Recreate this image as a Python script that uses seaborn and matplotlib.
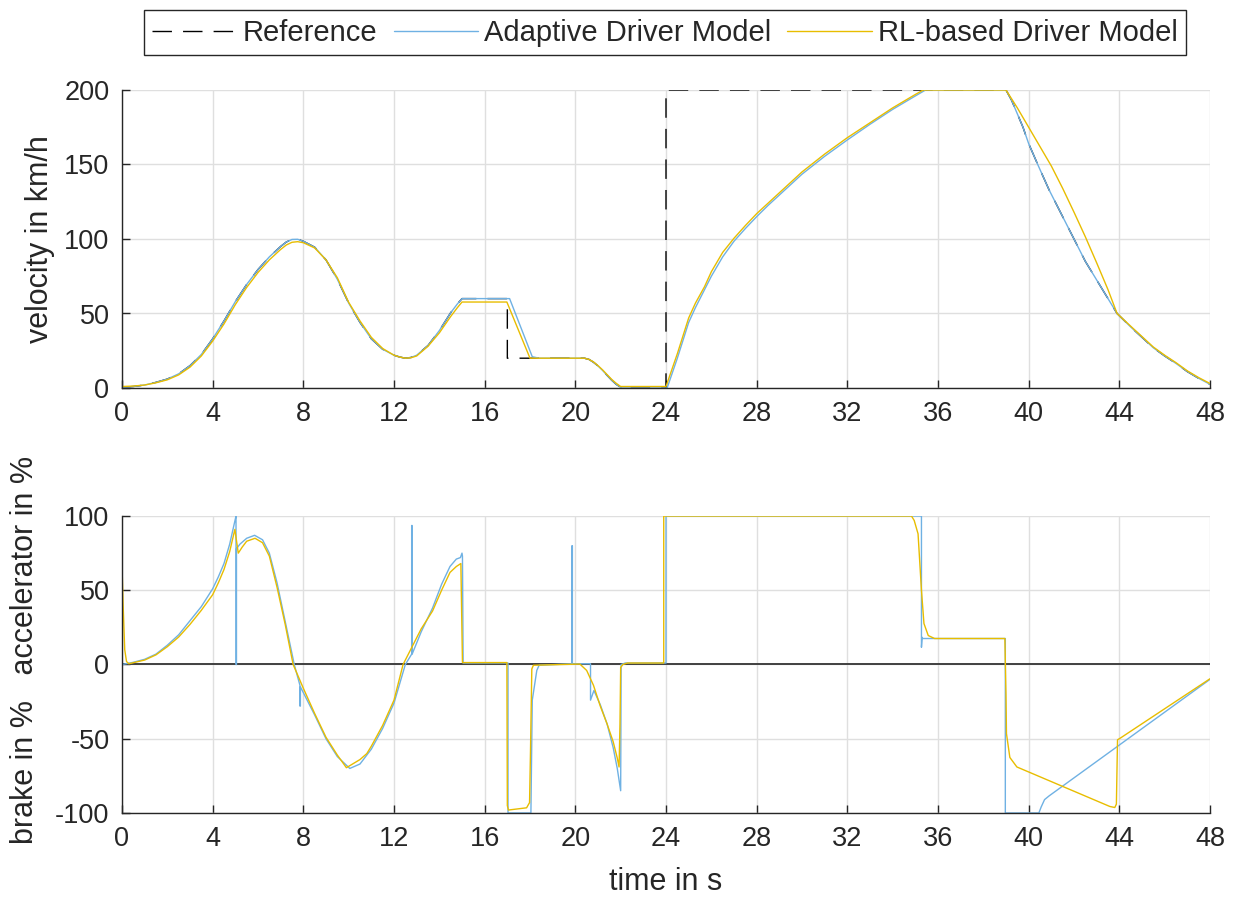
import matplotlib
matplotlib.use("Agg")
import matplotlib.pyplot as plt
import seaborn as sns
import pandas as pd

# ---------------- velocity (km/h) ----------------
ref_t = [0, 0.5, 1, 1.5, 2, 2.5, 3, 3.5, 4, 4.5, 5, 5.5, 6, 6.5, 7, 7.25, 7.5, 7.75,
         8, 8.5, 9, 9.5, 10, 10.5, 11, 11.5, 12, 12.25, 12.5, 12.75, 13, 13.5, 14,
         14.5, 14.8, 15, 17, 17, 20.4, 20.6, 20.8, 21.0, 21.2, 21.4, 21.6, 21.8, 22.05,
         24, 24, 39, 39.25, 39.5, 39.75, 40, 40.4, 40.9, 41.5, 42, 42.5, 43.1, 43.5,
         43.9, 44.5, 45, 45.5, 46, 46.5, 47, 47.5, 48]
ref_v = [0.5, 1, 2, 3.8, 6, 9.5, 15, 22.5, 33, 45, 58, 69.5, 79.5, 88, 95, 98, 99.7, 99.8,
         98.5, 94.5, 86, 73, 57, 44, 33, 26, 22, 20.8, 20, 20.5, 22, 28.5, 38.5,
         50.5, 56.5, 60, 60, 20, 20, 19.2, 17.3, 14.8, 11.8, 8.5, 5.3, 2.5, 0,
         0, 200, 200, 193, 184, 175, 164, 150, 133, 115, 100, 85, 70, 60,
         50, 41, 34, 27, 21.5, 16.5, 11, 6.5, 2.5]

adm_t = [0, 0.5, 1, 1.5, 2, 2.5, 3, 3.5, 4, 4.5, 5, 5.5, 6, 6.5, 7, 7.25, 7.5, 7.75,
         8, 8.5, 9, 9.5, 10, 10.5, 11, 11.5, 12, 12.25, 12.5, 12.75, 13, 13.5, 14,
         14.5, 14.8, 15, 17.1, 18.1, 18.4, 20.4, 20.6, 20.8, 21.0, 21.2, 21.4, 21.6,
         21.8, 22.05, 24.05, 24.5, 25, 25.3, 25.7, 26, 26.5, 27, 27.5, 28, 28.5, 29,
         29.5, 30, 31, 32, 33, 34, 35, 35.45, 39, 39.25, 39.5, 39.75, 40, 40.4, 40.9,
         41.5, 42, 42.5, 43.1, 43.5, 43.9, 44.5, 45, 45.5, 46, 46.5, 47, 47.5, 48]
adm_v = [0.5, 1, 2, 3.8, 6, 9.5, 15, 22.5, 33, 45, 58, 69.5, 79.5, 88, 95, 98, 99.7, 99.8,
         98.5, 94.5, 86, 73, 57, 44, 33, 26, 22, 20.8, 20, 20.5, 22, 28.5, 38.5,
         50.5, 56.5, 60, 60, 21, 20, 20, 19.2, 17.3, 14.8, 11.8, 8.5, 5.3,
         2.5, 0, 0, 20, 44, 54, 66, 75, 88, 98.5, 107, 115, 122.5, 129.5,
         136.5, 143.5, 155.5, 166.5, 177, 187, 196, 200, 200, 193, 184, 175, 164, 150, 133,
         115, 100, 85, 70, 60, 50, 41, 34, 27, 21.5, 16.5, 11, 6.5, 2.5]

rl_t = [0, 0.5, 1, 1.5, 2, 2.5, 3, 3.5, 4, 4.5, 5, 5.5, 6, 6.5, 7, 7.25, 7.5, 7.75,
        8, 8.5, 9, 9.5, 10, 10.5, 11, 11.5, 12, 12.25, 12.5, 12.75, 13, 13.5, 14,
        14.5, 14.8, 15, 16.98, 18.0, 18.3, 20.4, 20.6, 20.8, 21.0, 21.2, 21.4, 21.6,
        21.8, 22.0, 24.0, 24.5, 25, 25.3, 25.7, 26, 26.5, 27, 27.5, 28, 28.5, 29,
        29.5, 30, 31, 32, 33, 34, 35, 35.35, 39, 39.5, 40, 40.5, 41, 41.5, 42, 42.5,
        43, 43.5, 43.9, 44.5, 45, 45.5, 46, 46.5, 47, 47.5, 48]
rl_v = [1, 1.3, 2, 3.5, 5.5, 8.8, 14, 21.5, 31.5, 43, 56, 67.5, 77.5, 86, 93, 96, 97.8, 98.2,
        97.5, 94, 86, 74, 57.5, 45, 34, 26.5, 22, 20.8, 20, 20.3, 21.5, 28, 37,
        48, 54, 57.7, 57.7, 20, 20, 20, 19.2, 17.5, 15, 12.2, 9, 5.8,
        3.2, 1, 1, 23, 47, 57, 68, 78, 91, 100.5, 109, 117, 124, 131,
        138, 145, 157, 168, 178, 188, 197, 200, 200, 188, 175, 162, 149, 134, 118, 101.5,
        84, 66, 50, 41.5, 34.5, 27.5, 22, 17, 11.5, 7, 3]

# ---------------- pedal (%) : accelerator > 0, brake < 0 ----------------
adm_pt = [0, 0.5, 1, 1.5, 2, 2.5, 3, 3.5, 4, 4.25, 4.5, 4.75, 5.0, 5.03, 5.03, 5.05,
          5.05, 5.2, 5.5, 5.85, 6.2, 6.5, 6.84, 7.2, 7.6, 7.85, 7.85, 7.87, 7.87,
          8.5, 9, 9.5, 10.05, 10.5, 11, 11.5, 12, 12.5, 12.78, 12.78, 12.8, 12.8,
          13.2, 13.7, 14.1, 14.47, 14.75, 14.93, 15.0, 15.02, 15.05, 17.03, 17.03,
          18.04, 18.1, 18.3, 18.4, 19.85, 19.85, 19.87, 19.87, 20.67, 20.67, 20.82,
          21.1, 21.4, 21.67, 21.85, 22.0, 22.02, 22.2, 24.0, 24.0, 35.27, 35.27,
          35.3, 35.33, 38.97, 38.97, 40.45, 40.55, 40.7, 40.9, 48]
adm_pv = [0, 1.5, 3.5, 7, 13, 20, 29.5, 39, 51, 59, 68, 81, 98, 100, 0, 0,
          78, 81, 85, 87, 84, 75, 55, 29, 0, -14, -28, -28, -15,
          -34, -50, -62, -70, -67, -57, -43, -26, 0, 7, 93.6, 93.6, 7,
          22, 38, 54, 66, 71, 72, 75, 73, 1, 1, -100,
          -100, -24, -4, -0.5, 0.5, 80, 80, 0.5, 0.5, -24, -17.5,
          -27, -40, -56, -70, -85, 0, 1, 1, 100, 100, 11.6,
          18.3, 17.5, 17.5, -100, -100, -96, -91, -88.5, -10]

rl_pt = [0, 0.05, 0.12, 0.2, 0.3, 1, 1.5, 2, 2.5, 3, 3.5, 4, 4.25, 4.5, 4.75, 4.98,
         5.13, 5.3, 5.5, 5.87, 6.2, 6.5, 6.84, 7.2, 7.55, 8, 8.5, 9, 9.5, 9.9, 10.5,
         10.8, 11.0, 11.5, 12, 12.4, 12.8, 13.2, 13.7, 14.1, 14.47, 14.75, 14.95,
         15.02, 16.98, 17.0, 17.05, 17.85, 17.98, 18.02, 18.08, 18.15, 20.2, 20.5,
         20.8, 21.1, 21.4, 21.67, 21.85, 21.93, 21.97, 22.0, 22.1, 22.3, 23.9, 23.9,
         34.83, 34.95, 35.12, 35.27, 35.38, 35.57, 35.85, 38.95, 39.0, 39.02, 39.17,
         39.48, 43.58, 43.8, 43.87, 43.92, 44.05, 48]
rl_pv = [66.7, 40, 10, 2, 0.5, 3, 6.5, 12, 18.5, 27, 36.5, 47, 55, 64, 76, 91,
         75, 79, 83, 85, 82, 73, 52, 27, 0, -16, -33, -49, -61, -69.5, -64,
         -60, -55, -41, -24, 0, 12, 24, 36, 50, 62, 66, 68,
         1.3, 1.3, -95, -98, -96.5, -93, -60, -3, -0.5, 0.3, -4,
         -14, -28, -40, -52, -63, -69, -40, -2, 0, 1, 1, 100,
         100, 97, 88, 50, 27.6, 19.5, 17.5, 17.5, -20, -46.5, -62.6,
         -69, -95.6, -96.3, -94, -50.7, -49.5, -9.6]

x_ticks = [0, 4, 8, 12, 16, 20, 24, 28, 32, 36, 40, 44, 48]
v_ticks = [0, 50, 100, 150, 200]
p_ticks = [-100, -50, 0, 50, 100]

series_names = ["Reference", "Adaptive Driver Model", "RL-based Driver Model"]

C_REF = "#000000"
C_ADM = "#6FB1E3"
C_RL = "#E8BD00"
C_AX = "#262626"

sns.set_theme(style="white")
plt.rcParams["font.family"] = ["Liberation Sans", "DejaVu Sans"]
plt.rcParams.update({
    "axes.edgecolor": C_AX,
    "axes.linewidth": 1.0,
    "xtick.color": C_AX,
    "ytick.color": C_AX,
    "text.color": C_AX,
    "axes.labelcolor": C_AX,
})

vel_ref = pd.DataFrame({"t": ref_t, "v": ref_v})
vel_adm = pd.DataFrame({"t": adm_t, "v": adm_v})
vel_rl = pd.DataFrame({"t": rl_t, "v": rl_v})
ped_adm = pd.DataFrame({"t": adm_pt, "p": adm_pv})
ped_rl = pd.DataFrame({"t": rl_pt, "p": rl_pv})

fig = plt.figure(figsize=(12.36, 8.97), dpi=100)
ax1 = fig.add_axes([122 / 1236, 1 - 388 / 897, 1088 / 1236, 298 / 897])
ax2 = fig.add_axes([122 / 1236, 1 - 813 / 897, 1088 / 1236, 297 / 897])

LW = 1.0
sns.lineplot(data=vel_ref, x="t", y="v", ax=ax1, sort=False, estimator=None,
             color=C_REF, lw=LW, linestyle=(0, (14, 8)), label=series_names[0])
sns.lineplot(data=vel_adm, x="t", y="v", ax=ax1, sort=False, estimator=None,
             color=C_ADM, lw=LW, label=series_names[1])
sns.lineplot(data=vel_rl, x="t", y="v", ax=ax1, sort=False, estimator=None,
             color=C_RL, lw=LW, label=series_names[2])

ax2.axhline(0, color="#404040", lw=1.4, zorder=1)
sns.lineplot(data=ped_adm, x="t", y="p", ax=ax2, sort=False, estimator=None,
             color=C_ADM, lw=LW)
sns.lineplot(data=ped_rl, x="t", y="p", ax=ax2, sort=False, estimator=None,
             color=C_RL, lw=LW)

handles, labels = ax1.get_legend_handles_labels()
ax1.get_legend().remove()

for ax, yt in ((ax1, v_ticks), (ax2, p_ticks)):
    ax.set_xlim(0, 48)
    ax.set_ylim(yt[0], yt[-1])
    ax.set_xticks(x_ticks)
    ax.set_yticks(yt)
    ax.set_xticklabels([str(v) for v in x_ticks])
    ax.set_yticklabels([str(v) for v in yt])
    ax.grid(True, color="#DFDFDF", lw=1.0)
    ax.set_axisbelow(True)
    for s in ("top", "right"):
        ax.spines[s].set_visible(False)
    ax.tick_params(direction="in", length=6, width=1.0, labelsize=19.5, pad=9,
                   bottom=True, left=True)
    ax.set_xlabel("")

ax1.set_ylabel("velocity in km/h", fontsize=22)
ax1.yaxis.set_label_coords(-0.062, 0.5)
ax2.set_ylabel("brake in %   accelerator in %", fontsize=22)
ax2.yaxis.set_label_coords(-0.075, 0.55)
ax2.set_xlabel("time in s", fontsize=22)
ax2.xaxis.set_label_coords(0.5, -0.182)

fig.legend(handles, labels, loc="upper center", ncol=3,
           bbox_to_anchor=(665 / 1236, 1 - 10 / 897), fontsize=21,
           frameon=True, fancybox=False, edgecolor=C_AX, framealpha=1,
           handlelength=2.9, handletextpad=0.2, columnspacing=0.55,
           borderpad=0.3, borderaxespad=0)
fig.legends[0].get_frame().set_linewidth(1.0)

fig.savefig("out.png", dpi=100)
